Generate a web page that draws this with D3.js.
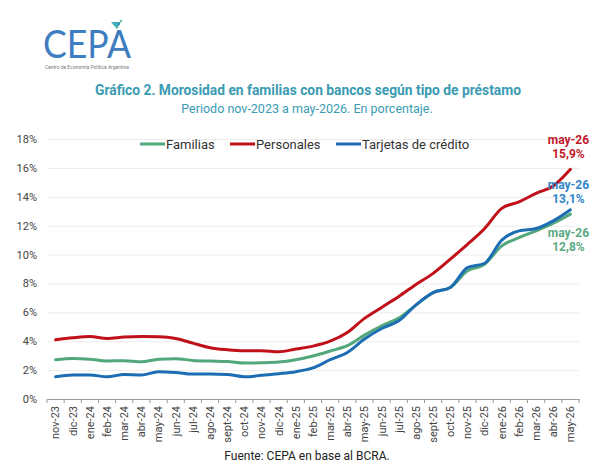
<!DOCTYPE html>
<html>
<head>
<meta charset="utf-8">
<script src="https://cdn.jsdelivr.net/npm/d3@7"></script>
<style>
  body { margin: 0; background: #fff; }
  #svg-container { width: 610px; height: 470px; }
  text { font-family: Roboto, "Noto Sans", sans-serif; }
</style>
</head>
<body>
<div id="svg-container"></div>
<script>
////////////////////////////  Data  ////////////////////////////
const months = [
  "nov-23", "dic-23", "ene-24", "feb-24", "mar-24", "abr-24", "may-24", "jun-24",
  "jul-24", "ago-24", "sept-24", "oct-24", "nov-24", "dic-24", "ene-25", "feb-25",
  "mar-25", "abr-25", "may-25", "jun-25", "jul-25", "ago-25", "sept-25", "oct-25",
  "nov-25", "dic-25", "ene-26", "feb-26", "mar-26", "abr-26", "may-26"
];

// morosidad en %
const familias = [
  2.72, 2.81, 2.76, 2.63, 2.65, 2.58, 2.76, 2.79, 2.67, 2.63, 2.6, 2.49, 2.51, 2.56, 2.72, 2.98,
  3.32, 3.69, 4.42, 5.07, 5.6, 6.5, 7.37, 7.72, 8.87, 9.33, 10.6, 11.17, 11.64, 12.17, 12.8
];
const personales = [
  4.1, 4.24, 4.33, 4.19, 4.29, 4.33, 4.31, 4.19, 3.87, 3.55, 3.41, 3.34, 3.34, 3.27, 3.46, 3.66,
  4.0, 4.6, 5.58, 6.34, 7.1, 7.93, 8.7, 9.68, 10.7, 11.8, 13.2, 13.64, 14.24, 14.75, 15.9
];
const tarjetas = [
  1.54, 1.66, 1.66, 1.54, 1.7, 1.66, 1.89, 1.84, 1.73, 1.73, 1.7, 1.54, 1.64, 1.75, 1.89, 2.15,
  2.72, 3.22, 4.15, 4.88, 5.41, 6.52, 7.37, 7.72, 9.1, 9.4, 11.0, 11.64, 11.8, 12.33, 13.1
];

const yTicks = [0, 2, 4, 6, 8, 10, 12, 14, 16, 18];

const series = [
  { name: "Familias", values: familias, color: "#52a77b", label: "#5aa982", dy: [23, 37] },
  { name: "Personales", values: personales, color: "#c0101a", label: "#c0182a", dy: [-25, -11] },
  { name: "Tarjetas de crédito", values: tarjetas, color: "#1c6db4", label: "#2f86c6", dy: [-21, -7] }
];

////////////////////////////  Init  ////////////////////////////
const width = 610;
const height = 470;
const margin = { top: 139, right: 31, bottom: 70, left: 47 };

const svg = d3.select("#svg-container").append("svg")
  .attr("width", width)
  .attr("height", height);

// logo
const logo = svg.append("g");
logo.append("text")
  .attr("x", 43)
  .attr("y", 58)
  .attr("textLength", 88)
  .attr("lengthAdjust", "spacingAndGlyphs")
  .style("font-family", "Lato, 'Open Sans', sans-serif")
  .style("font-weight", 400)
  .style("font-size", "39px")
  .attr("fill", "#3f7dc1")
  .text("CEPA");
logo.append("path")
  .attr("d", "M111,22 L121,22 L117,29 Z")
  .attr("fill", "#3fb0b8");
logo.append("circle").attr("cx", 121).attr("cy", 21).attr("r", 1.3).attr("fill", "#7bc4a0");
logo.append("circle").attr("cx", 119).attr("cy", 24).attr("r", 1).attr("fill", "#3f7dc1");
logo.append("text")
  .attr("x", 45)
  .attr("y", 69)
  .attr("textLength", 84)
  .attr("lengthAdjust", "spacingAndGlyphs")
  .style("font-size", "4.5px")
  .attr("fill", "#777")
  .text("Centro de Economía Política Argentina");

// titulos
svg.append("text")
  .attr("x", 308)
  .attr("y", 95)
  .attr("text-anchor", "middle")
  .style("font-size", "13.8px")
  .style("font-weight", "bold")
  .attr("fill", "#3a9bb3")
  .text("Gráfico 2. Morosidad en familias con bancos según tipo de préstamo");

svg.append("text")
  .attr("x", 307)
  .attr("y", 113)
  .attr("text-anchor", "middle")
  .style("font-size", "12.5px")
  .attr("fill", "#3a9bb3")
  .text("Periodo nov-2023 a may-2026. En porcentaje.");

////////////////////////////  Scales  ////////////////////////////
const xScale = d3.scaleBand()
  .domain(months)
  .range([margin.left, width - margin.right])
  .paddingInner(0)
  .paddingOuter(0);

const yScale = d3.scaleLinear()
  .domain([0, 18])
  .range([height - margin.bottom - 1, margin.top]);

const xMid = (m) => xScale(m) + xScale.bandwidth() / 2;

// y axis + grid
const yAxis = d3.axisLeft(yScale)
  .tickValues(yTicks)
  .tickFormat((d) => d + "%")
  .tickSize(-(width - margin.right - margin.left))
  .tickPadding(10);

const gy = svg.append("g")
  .attr("class", "y-axis")
  .attr("transform", `translate(${margin.left},0)`)
  .call(yAxis);
gy.select(".domain").remove();
gy.selectAll(".tick line").attr("stroke", "#ececec").attr("stroke-width", 1);
gy.selectAll(".tick text")
  .attr("fill", "#444")
  .style("font-size", "11px");

// x axis
const xAxis = d3.axisBottom(xScale).tickSize(0).tickSizeOuter(0);
const gx = svg.append("g")
  .attr("class", "x-axis")
  .attr("transform", `translate(0,${yScale(0)})`)
  .call(xAxis);
gx.select(".domain").attr("stroke", "#9a9a9a");
gx.selectAll(".tick text")
  .attr("transform", "rotate(-90)")
  .attr("x", -7)
  .attr("y", 0)
  .attr("dy", "0.35em")
  .attr("text-anchor", "end")
  .attr("fill", "#444")
  .style("font-size", "11px");

// marcas entre categorias
gx.selectAll(".sep")
  .data(months.concat(["end"]))
  .join("line")
  .attr("class", "sep")
  .attr("x1", (d, i) => (i < months.length ? xScale(d) : xScale.range()[1]))
  .attr("x2", (d, i) => (i < months.length ? xScale(d) : xScale.range()[1]))
  .attr("y1", 0)
  .attr("y2", 4)
  .attr("stroke", "#9a9a9a");

////////////////////////////  Lines  ////////////////////////////
const line = d3.line()
  .x((d, i) => xMid(months[i]))
  .y((d) => yScale(d))
  .curve(d3.curveMonotoneX);

series.forEach((s) => {
  svg.append("path")
    .datum(s.values)
    .attr("fill", "none")
    .attr("stroke", s.color)
    .attr("stroke-width", 3)
    .attr("stroke-linejoin", "round")
    .attr("stroke-linecap", "round")
    .attr("d", line);
});

// etiquetas finales
series.forEach((s) => {
  const last = s.values[s.values.length - 1];
  const lx = xMid(months[months.length - 1]) - 2;
  const ly = yScale(last);
  const g = svg.append("g")
    .attr("fill", s.label)
    .style("font-size", "12px")
    .style("font-weight", "bold")
    .attr("text-anchor", "middle");
  g.append("text").attr("x", lx).attr("y", ly + s.dy[0]).text(months[months.length - 1]);
  g.append("text").attr("x", lx).attr("y", ly + s.dy[1])
    .text(last.toFixed(1).replace(".", ",") + "%");
});

////////////////////////////  Legend  ////////////////////////////
const legendX = [140, 230, 336];
const legend = svg.append("g").attr("class", "legend");
series.forEach((s, i) => {
  const g = legend.append("g").attr("transform", `translate(${legendX[i]},144)`);
  g.append("line")
    .attr("x1", 0).attr("x2", 25)
    .attr("stroke", s.color)
    .attr("stroke-width", 3);
  g.append("text")
    .attr("x", 26)
    .attr("dy", "0.35em")
    .attr("fill", "#333")
    .style("font-size", "13px")
    .text(s.name);
});

// fuente
svg.append("text")
  .attr("x", 307)
  .attr("y", 460)
  .attr("text-anchor", "middle")
  .attr("fill", "#222")
  .style("font-size", "12px")
  .text("Fuente: CEPA en base al BCRA.");
</script>
</body>
</html>
